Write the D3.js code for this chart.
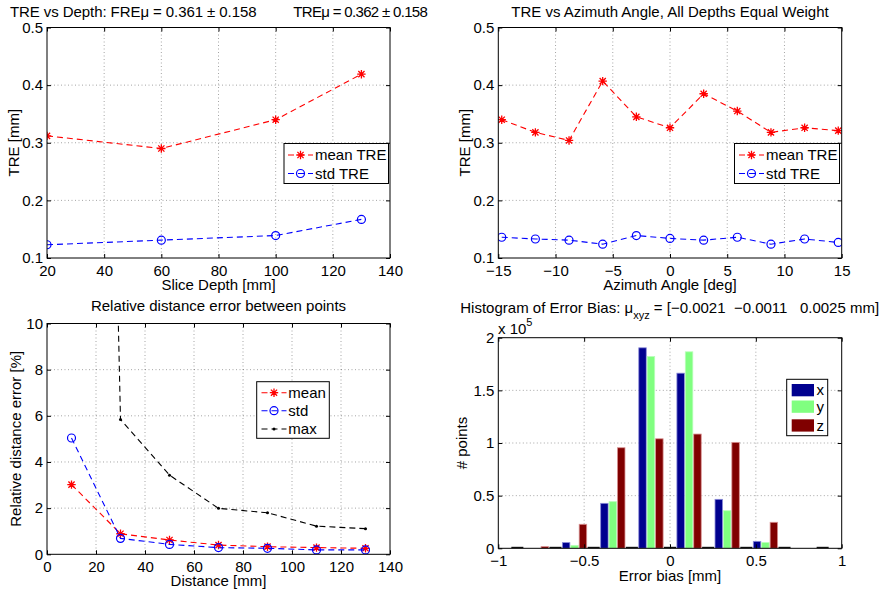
<!DOCTYPE html>
<html>
<head>
<meta charset="utf-8">
<script src="https://cdn.jsdelivr.net/npm/d3@7"></script>
<style>
  html, body { margin: 0; padding: 0; background: #fff; }
  svg { display: block; }
  text { font-family: "Liberation Sans", Arial, Helvetica, sans-serif; font-size: 15px; fill: #000; white-space: pre; }
</style>
</head>
<body>
<svg id="fig" width="887" height="593"></svg>
<script>
// ---- TRE vs slice depth ----
const depth = [20, 60, 100, 130];
const depthMean = [0.312, 0.290, 0.340, 0.419];
const depthStd = [0.123, 0.131, 0.139, 0.167];

// ---- TRE vs azimuth angle ----
const azimuth = [-14.7, -11.76, -8.82, -5.88, -2.94, 0, 2.94, 5.88, 8.82, 11.76, 14.7];
const azMean = [0.340, 0.318, 0.304, 0.407, 0.345, 0.326, 0.385, 0.355, 0.318, 0.326, 0.321];
const azStd = [0.136, 0.133, 0.131, 0.124, 0.139, 0.134, 0.131, 0.136, 0.124, 0.133, 0.127];

// ---- relative distance error ----
const distance = [10, 30, 50, 70, 90, 110, 130];
const distMean = [3.02, 0.89, 0.62, 0.40, 0.33, 0.29, 0.26];
const distStd = [5.04, 0.69, 0.43, 0.29, 0.26, 0.19, 0.19];
const distMax = [100, 5.84, 3.43, 1.99, 1.80, 1.22, 1.11];

// ---- error bias histogram ----
const binCenters = [-1, -0.778, -0.556, -0.333, -0.111, 0.111, 0.333, 0.556, 0.778, 1];
const histX = [0, 0, 5400, 42700, 190400, 166300, 46500, 6600, 0, 0];
const histY = [0, 0, 2800, 44300, 182100, 186600, 35700, 5400, 0, 0];
const histZ = [0, 1600, 22800, 95500, 104000, 108500, 100600, 24700, 0, 0];
const histSeries = ["x", "y", "z"];

// ---- tick labels ----
const ticksDepth = [20, 40, 60, 80, 100, 120, 140];
const ticksTRE = [0.1, 0.2, 0.3, 0.4, 0.5];
const ticksAz = [-15, -10, -5, 0, 5, 10, 15];
const ticksDist = [0, 20, 40, 60, 80, 100, 120, 140];
const ticksRel = [0, 2, 4, 6, 8, 10];
const ticksBias = [-1, -0.5, 0, 0.5, 1];
const ticksCount = [0, 0.5, 1, 1.5, 2];

const svg = d3.select("#fig");
const minus = s => String(s).replace("-", "\u2212");
let clipId = 0;

function makePanel(box, xDom, yDom) {
  const x = d3.scaleLinear().domain(xDom).range([box.l, box.r]);
  const y = d3.scaleLinear().domain(yDom).range([box.b, box.t]);
  const id = "clip" + (clipId++);
  svg.append("clipPath").attr("id", id).append("rect")
    .attr("x", box.l).attr("y", box.t).attr("width", box.r - box.l).attr("height", box.b - box.t);
  const g = svg.append("g");
  const grid = g.append("g");
  const plot = g.append("g").attr("clip-path", `url(#${id})`);
  const axes = g.append("g");
  return { x, y, g, grid, plot, axes, box };
}

function drawAxes(p, xt, yt, xfmt, yfmt) {
  const { x, y, box, grid, axes } = p;
  // dotted grid
  grid.selectAll(".gx").data(xt.filter(v => x(v) > box.l + 1 && x(v) < box.r - 1)).join("line")
    .attr("x1", d => x(d)).attr("x2", d => x(d)).attr("y1", box.t).attr("y2", box.b)
    .attr("stroke", "#000").attr("stroke-opacity", 0.45).attr("stroke-width", 0.8).attr("stroke-dasharray", "1,2.5");
  grid.selectAll(".gy").data(yt.filter(v => y(v) > box.t + 1 && y(v) < box.b - 1)).join("line")
    .attr("y1", d => y(d)).attr("y2", d => y(d)).attr("x1", box.l).attr("x2", box.r)
    .attr("stroke", "#000").attr("stroke-opacity", 0.45).attr("stroke-width", 0.8).attr("stroke-dasharray", "1,2.5");

  const style = sel => {
    sel.select(".domain").remove();
    sel.selectAll(".tick line").attr("stroke", "#000").attr("stroke-width", 1);
    sel.selectAll(".tick text").attr("font-size", 15).attr("font-family", null).attr("fill", "#000");
  };
  axes.append("g").attr("transform", `translate(0,${box.b})`)
    .call(d3.axisBottom(x).tickValues(xt).tickSize(-4).tickPadding(7).tickFormat(xfmt)).call(style);
  axes.append("g").attr("transform", `translate(0,${box.t})`)
    .call(d3.axisTop(x).tickValues(xt).tickSize(-4).tickFormat("")).call(style);
  axes.append("g").attr("transform", `translate(${box.l},0)`)
    .call(d3.axisLeft(y).tickValues(yt).tickSize(-4).tickPadding(4).tickFormat(yfmt)).call(style);
  axes.append("g").attr("transform", `translate(${box.r},0)`)
    .call(d3.axisRight(y).tickValues(yt).tickSize(-4).tickFormat("")).call(style);
  axes.append("rect").attr("x", box.l).attr("y", box.t)
    .attr("width", box.r - box.l).attr("height", box.b - box.t)
    .attr("fill", "none").attr("stroke", "#000").attr("stroke-width", 1);
}

function asterisk(sel, cx, cy, color) {
  const a = 4.2, b = 3.1;
  sel.append("path")
    .attr("d", `M${cx - a},${cy}H${cx + a}M${cx},${cy - a}V${cy + a}M${cx - b},${cy - b}L${cx + b},${cy + b}M${cx - b},${cy + b}L${cx + b},${cy - b}`)
    .attr("stroke", color).attr("stroke-width", 1.3).attr("fill", "none");
}
function ring(sel, cx, cy, color) {
  sel.append("circle").attr("cx", cx).attr("cy", cy).attr("r", 4)
    .attr("fill", "none").attr("stroke", color).attr("stroke-width", 1.2);
}
function dot(sel, cx, cy, color) {
  sel.append("circle").attr("cx", cx).attr("cy", cy).attr("r", 1.5).attr("fill", color);
}

function series(p, xs, ys, color, marker) {
  const pts = xs.map((v, i) => [p.x(v), p.y(ys[i])]);
  p.plot.append("path").attr("d", d3.line()(pts))
    .attr("fill", "none").attr("stroke", color).attr("stroke-width", 1.1).attr("stroke-dasharray", "6,4");
  pts.forEach(([cx, cy]) => marker(p.plot, cx, cy, color));
}

function legend(box, entries) {
  const g = svg.append("g");
  g.append("rect").attr("x", box.l).attr("y", box.t).attr("width", box.r - box.l).attr("height", box.b - box.t)
    .attr("fill", "#fff").attr("stroke", "#000").attr("stroke-width", 1);
  entries.forEach(e => {
    g.append("line").attr("x1", box.lx0).attr("x2", box.lx1).attr("y1", e.y).attr("y2", e.y)
      .attr("stroke", e.color).attr("stroke-width", 1.1).attr("stroke-dasharray", "6,4");
    e.marker(g, (box.lx0 + box.lx1) / 2, e.y, e.color);
    g.append("text").attr("x", box.tx).attr("y", e.y).attr("dy", "0.35em").text(e.label);
  });
}

function yLabel(x, cy, txt) {
  svg.append("text").attr("transform", `translate(${x},${cy}) rotate(-90)`)
    .attr("text-anchor", "middle").text(txt);
}
function xLabel(cx, y, txt) {
  svg.append("text").attr("x", cx).attr("y", y).attr("text-anchor", "middle").text(txt);
}

const fmtPlain = d => minus(d);

// ================= Panel 1: TRE vs depth =================
const p1 = makePanel({ l: 47, r: 390, t: 27.5, b: 258 }, [20, 140], [0.1, 0.5]);
drawAxes(p1, ticksDepth, ticksTRE, fmtPlain, fmtPlain);
series(p1, depth, depthMean, "#ff0000", asterisk);
series(p1, depth, depthStd, "#0000ff", ring);
legend({ l: 284, r: 388.5, t: 143.5, b: 183.5, lx0: 288, lx1: 313, tx: 315 }, [
  { y: 155, color: "#ff0000", marker: asterisk, label: "mean TRE" },
  { y: 173.5, color: "#0000ff", marker: ring, label: "std TRE" }
]);
svg.append("text").attr("x", 10).attr("y", 16.5)
  .attr("textLength", 246.5).attr("lengthAdjust", "spacing")
  .text("TRE vs Depth: FREμ = 0.361 ± 0.158");
svg.append("text").attr("x", 293.3).attr("y", 16.5)
  .attr("textLength", 134.5).attr("lengthAdjust", "spacing")
  .text("TREμ = 0.362 ± 0.158");
xLabel(218.5, 290, "Slice Depth [mm]");
yLabel(18.5, 142.7, "TRE [mm]");

// ================= Panel 2: TRE vs azimuth =================
const p2 = makePanel({ l: 498.3, r: 841.7, t: 27.5, b: 258 }, [-15, 15], [0.1, 0.5]);
drawAxes(p2, ticksAz, ticksTRE, fmtPlain, fmtPlain);
series(p2, azimuth, azMean, "#ff0000", asterisk);
series(p2, azimuth, azStd, "#0000ff", ring);
legend({ l: 734.5, r: 839.5, t: 143.5, b: 183.5, lx0: 739, lx1: 764, tx: 766 }, [
  { y: 155, color: "#ff0000", marker: asterisk, label: "mean TRE" },
  { y: 173.5, color: "#0000ff", marker: ring, label: "std TRE" }
]);
xLabel(670, 16.5, "TRE vs Azimuth Angle, All Depths Equal Weight");
xLabel(670, 290, "Azimuth Angle [deg]");
yLabel(470, 142.7, "TRE [mm]");

// ================= Panel 3: relative distance error =================
const p3 = makePanel({ l: 47, r: 390, t: 323.5, b: 554.3 }, [0, 140], [0, 10]);
drawAxes(p3, ticksDist, ticksRel, fmtPlain, fmtPlain);
series(p3, distance, distMean, "#ff0000", asterisk);
series(p3, distance, distStd, "#0000ff", ring);
series(p3, distance, distMax, "#000000", dot);
legend({ l: 256.7, r: 329.3, t: 381.7, b: 438.3, lx0: 261.5, lx1: 286.5, tx: 288.3 }, [
  { y: 392.7, color: "#ff0000", marker: asterisk, label: "mean" },
  { y: 410.7, color: "#0000ff", marker: ring, label: "std" },
  { y: 429, color: "#000000", marker: dot, label: "max" }
]);
xLabel(218.5, 311, "Relative distance error between points");
xLabel(218.5, 586, "Distance [mm]");
yLabel(21, 438.8, "Relative distance error [%]");

// ================= Panel 4: histogram of error bias =================
const p4 = makePanel({ l: 498.3, r: 841.7, t: 337.7, b: 548.3 }, [-1, 1], [0, 2e5]);
drawAxes(p4, ticksBias, ticksCount.map(v => v * 1e5),
  d => minus(d), d => String(d / 1e5));
// bars go in the clipped plot layer, above the grid
const groupHalf = 0.0708;
const sub = d3.scaleBand().domain(histSeries).paddingInner(0.11);
const histColor = { x: "#00008f", y: "#80ff80", z: "#800000" };
const histEdge = { x: "#8a8ad8", y: "#b8ffb8", z: "#d89090" };
const histVals = { x: histX, y: histY, z: histZ };
const barData = [];
binCenters.forEach((c, i) => histSeries.forEach(s => barData.push({ c, s, v: histVals[s][i] })));
p4.plot.selectAll("rect.bar").data(barData.filter(d => d.v > 0)).join("rect")
  .attr("class", "bar")
  .attr("x", d => { sub.range([p4.x(d.c - groupHalf), p4.x(d.c + groupHalf)]); return sub(d.s); })
  .attr("width", sub.bandwidth())
  .attr("y", d => p4.y(d.v))
  .attr("height", d => p4.y(0) - p4.y(d.v))
  .attr("fill", d => histColor[d.s])
  .attr("stroke", d => histEdge[d.s]).attr("stroke-width", 0.8);
// zero-count bars between the bin groups sit on the baseline
const binEdges = d3.pairs(binCenters, (a, b) => (a + b) / 2);
p4.plot.selectAll("rect.zero").data(binEdges).join("rect")
  .attr("class", "zero")
  .attr("x", d => p4.x(d - 0.035)).attr("width", p4.x(0.07) - p4.x(0))
  .attr("y", p4.y(0) - 1.5).attr("height", 2).attr("fill", "#111");
p4.axes.raise();

// legend
const lg = svg.append("g");
lg.append("rect").attr("x", 786.7).attr("y", 379.3).attr("width", 41).attr("height", 56.4)
  .attr("fill", "#fff").attr("stroke", "#000").attr("stroke-width", 1);
histSeries.forEach((s, i) => {
  const yy = [384, 400.5, 419.3][i];
  lg.append("rect").attr("x", 791.7).attr("y", yy).attr("width", 22.3).attr("height", 12.3)
    .attr("fill", histColor[s]);
  lg.append("text").attr("x", 816.5).attr("y", yy + 6.2).attr("dy", "0.35em").text(s);
});

const t4 = svg.append("text").attr("x", 669.7).attr("y", 313).attr("text-anchor", "middle");
t4.append("tspan").text("Histogram of Error Bias: μ");
t4.append("tspan").attr("font-size", 11).attr("dy", 6).text("xyz");
t4.append("tspan").attr("dy", -6).text(" = [\u22120.0021  \u22120.0011   0.0025 mm]");
const ex = svg.append("text").attr("x", 498).attr("y", 333.5);
ex.append("tspan").text("x 10");
ex.append("tspan").attr("font-size", 11).attr("dy", -8).text("5");
xLabel(670, 580.5, "Error bias [mm]");
yLabel(467, 443, "# points");
</script>
</body>
</html>
